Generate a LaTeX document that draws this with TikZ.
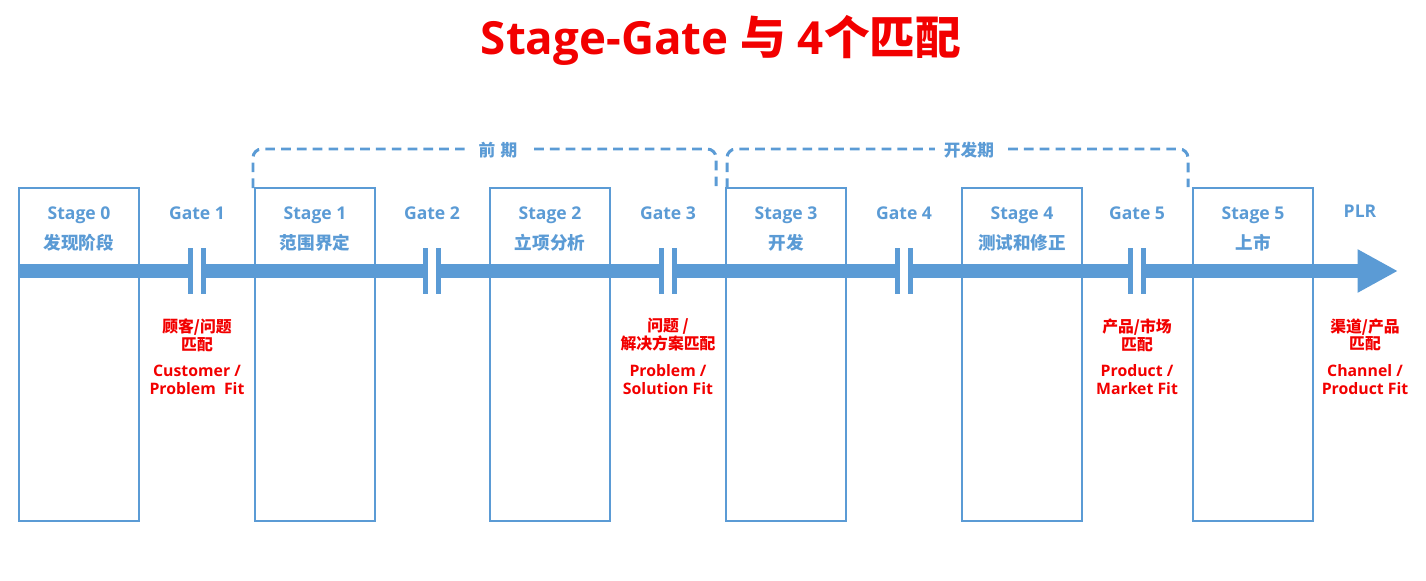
\documentclass[tikz,border=0pt]{standalone}
\usepackage{fontspec}
\setmainfont{Open Sans}
\newfontfamily\cjk{Noto Sans CJK SC}
\usetikzlibrary{arrows.meta}
\definecolor{sg_blue}{HTML}{5B9BD5}
\definecolor{sg_red}{HTML}{F20000}
\tikzset{
  stagebox/.style={draw=sg_blue, line width=1.4pt, minimum width=2.4cm, minimum height=6.66cm, inner sep=0pt},
  bluelabel/.style={text=sg_blue, font=\bfseries\fontsize{10}{12}\selectfont, anchor=base, inner sep=0pt},
  fitlabel/.style={text=sg_red, font=\bfseries\fontsize{9}{10.2}\selectfont, align=center, anchor=north, inner sep=0pt},
  phase/.style={draw=sg_blue, line width=1.7pt, dash pattern=on 5.5pt off 3.5pt, rounded corners=5pt},
  phaselabel/.style={fill=white, text=sg_blue, font=\cjk\bfseries\fontsize{9.5}{11}\selectfont},
  gatebar/.style={fill=sg_blue},
}

\begin{document}
\begin{tikzpicture}[x=0.02cm, y=-0.02cm]
  \useasboundingbox (0,0) rectangle (1426,581);
  \node[text=sg_red, font=\bfseries\fontsize{26}{30}\selectfont, anchor=base, inner sep=0pt] (title) at (721,55) {Stage-Gate {\cjk 与} 4{\cjk 个匹配}};
  % stages
  \foreach \i/\x/\name in {0/79/发现阶段, 1/315/范围界定, 2/550/立项分析, 3/786/开发, 4/1022/测试和修正, 5/1253/上市} {
    \node[stagebox] (s\i) at (\x,354.5) {};
    \node[bluelabel] (sl\i) at (\x,219) {Stage \i};
    \node[bluelabel, font=\cjk\bfseries\fontsize{10}{12}\selectfont] (sn\i) at (\x,249) {\name};
  }
  % main bar
  \coordinate (bar start) at (19,271);
  \coordinate (bar end) at (1398,271);
  \draw[sg_blue, line width=8pt, -{Triangle[length=23pt, width=23pt]}] (bar start) -- (bar end);
  % gates
  \foreach \i/\x in {1/197, 2/432, 3/668, 4/904, 5/1137} {
    \coordinate (gc\i) at (\x,271);
    \fill[white] (gc\i) ++(-4,-8) rectangle ++(8,16);
    \fill[gatebar] (gc\i) ++(-9,-23) rectangle ++(5,46);
    \fill[gatebar] (gc\i) ++(4,-23) rectangle ++(5,46);
    \node[bluelabel] (g\i) at (\x,219) {Gate \i};
  }
  \node[bluelabel] (plr) at (1360,217) {PLR};
  % fits
  \node[fitlabel] (fit1) at (197,318) {{\cjk 顾客/问题}\\{\cjk 匹配}\\[5pt]Customer /\\Problem\ \ Fit};
  \node[fitlabel] (fit3) at (668,318) {{\cjk 问题 /}\\{\cjk 解决方案匹配}\\[5pt]Problem /\\Solution Fit};
  \node[fitlabel] (fit5) at (1137,318) {{\cjk 产品/市场}\\{\cjk 匹配}\\[5pt]Product /\\Market Fit};
  \node[fitlabel] (fitplr) at (1365,318) {{\cjk 渠道/产品}\\{\cjk 匹配}\\[5pt]Channel /\\Product Fit};
  % phases
  \draw[phase] (253,188) |- (716,149) -- (716,188);
  \node[phaselabel, inner xsep=7pt] (early) at (498,150) {前\hspace{3pt}期};
  \draw[phase] (727,188) |- (1188,149) -- (1188,187);
  \node[phaselabel, inner xsep=5pt] (dev) at (969,150) {开发期};
\end{tikzpicture}
\end{document}
